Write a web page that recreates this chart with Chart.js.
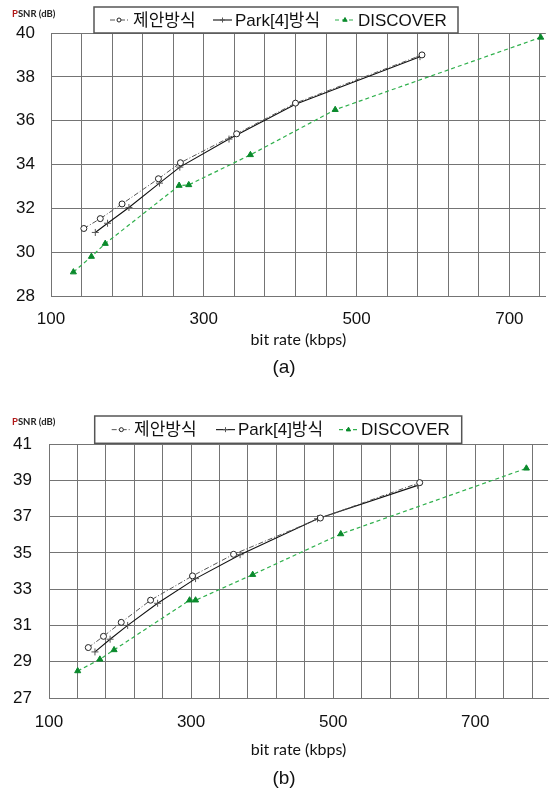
<!DOCTYPE html>
<html><head><meta charset="utf-8">
<script src="https://cdn.jsdelivr.net/npm/chart.js@4.4.1/dist/chart.umd.min.js"></script>
<style>
html,body{margin:0;padding:0;background:#fff;overflow:hidden;width:553px;height:791px}
#wa{position:absolute;left:0;top:0;width:553px;height:385px}
#wb{position:absolute;left:0;top:395px;width:553px;height:396px}
</style></head><body>
<div id="wa"><canvas id="ca"></canvas></div>
<div id="wb"><canvas id="cb"></canvas></div>
<script>
// ---- data ----
const seriesNames = ['제안방식', 'Park[4]방식', 'DISCOVER'];
const yAxisLabel = 'PSNR (dB)';
const xAxisLabel = 'bit rate (kbps)';
const captions = ['(a)', '(b)'];

// chart (a)
const rateProposedA = [143, 164.5, 193, 240.6, 269.4, 343, 420, 585.6];
const psnrProposedA = [31.08, 31.53, 32.2, 33.35, 34.08, 35.4, 36.8, 39.0];
const ratePark4A    = [158, 174, 202, 242, 268.6, 333, 420, 583];
const psnrPark4A    = [30.9, 31.32, 32.04, 33.15, 33.88, 35.16, 36.75, 38.92];
const rateDiscoverA = [129.3, 152.9, 171, 267.7, 280.3, 361, 472, 741];
const psnrDiscoverA = [29.09, 29.8, 30.39, 33.04, 33.07, 34.44, 36.5, 39.8];
const xLabelsA = [100, 300, 500, 700];
const yTicksA  = [28, 30, 32, 34, 36, 38, 40];

// chart (b)
const rateProposedB = [155.3, 176.7, 201.7, 243, 302, 359.8, 482, 621.8];
const psnrProposedB = [29.78, 30.4, 31.17, 32.39, 33.73, 34.92, 36.92, 38.87];
const ratePark4B    = [164.7, 186, 210.7, 252.9, 306.3, 369, 478, 619];
const psnrPark4B    = [29.54, 30.24, 31.0, 32.22, 33.58, 34.9, 36.88, 38.72];
const rateDiscoverB = [140.4, 171.6, 191.6, 297.9, 306.3, 386.7, 510.7, 772];
const psnrDiscoverB = [28.49, 29.13, 29.65, 32.39, 32.39, 33.8, 36.04, 39.66];
const xLabelsB = [100, 300, 500, 700];
const yTicksB  = [27, 29, 31, 33, 35, 37, 39, 41];

// ---- helpers ----
const zip = (xs, ys) => xs.map((x, i) => ({x: x, y: ys[i]}));
function gridSteps(from, to, step) { const a = []; for (let v = from; v <= to; v += step) a.push(v); return a; }

const FONT = '"Liberation Sans", Arial, "Noto Sans CJK KR", sans-serif';
const GRID = '#747474';

function makeDatasets(rp, pp, rk, pk, rd, pd) {
  return [
    {label: seriesNames[0], data: zip(rp, pp), borderColor: '#555', borderWidth: 1, borderDash: [5, 2, 1, 2],
     pointStyle: 'circle', pointRadius: 3, pointBackgroundColor: '#fff', pointBorderColor: '#222', pointBorderWidth: 1},
    {label: seriesNames[1], data: zip(rk, pk), borderColor: '#111', borderWidth: 1.1,
     pointStyle: 'cross', pointRadius: 3.5, pointBorderColor: '#555', pointBorderWidth: 1},
    {label: seriesNames[2], data: zip(rd, pd), borderColor: '#2fb04c', borderWidth: 1.2, borderDash: [4, 3],
     pointStyle: 'triangle', pointRadius: 3.5, pointBackgroundColor: '#0a8a2c', pointBorderColor: '#0a8a2c', pointBorderWidth: 1}
  ];
}

const boxLegend = {
  id: 'boxLegend',
  afterDraw(chart, args, o) {
    const ctx = chart.ctx;
    ctx.save();
    ctx.fillStyle = '#fff';
    ctx.fillRect(o.box[0], o.box[1], o.box[2] - o.box[0], o.box[3] - o.box[1]);
    ctx.strokeStyle = '#555'; ctx.lineWidth = 1.5;
    ctx.strokeRect(o.box[0], o.box[1], o.box[2] - o.box[0], o.box[3] - o.box[1]);
    const cy = (o.box[1] + o.box[3]) / 2;
    chart.data.datasets.forEach((ds, i) => {
      const it = o.items[i];
      ctx.beginPath();
      ctx.setLineDash(ds.borderDash || []);
      ctx.strokeStyle = ds.borderColor; ctx.lineWidth = ds.borderWidth;
      ctx.moveTo(it[0], cy); ctx.lineTo(it[1], cy); ctx.stroke();
      ctx.setLineDash([]);
      ctx.fillStyle = ds.pointBackgroundColor || '#fff';
      ctx.strokeStyle = ds.pointBorderColor; ctx.lineWidth = 1;
      Chart.helpers.drawPoint(ctx, {pointStyle: ds.pointStyle, radius: ds.pointRadius - 1, borderWidth: 1, rotation: 0}, (it[0] + it[1]) / 2, cy);
      ctx.fillStyle = '#111';
      ctx.font = '17px ' + FONT;
      ctx.textBaseline = 'middle'; ctx.textAlign = 'left';
      ctx.fillText(ds.label, it[2], cy + 1);
    });
    ctx.restore();
  }
};

const captionPlugin = {
  id: 'captionPlugin',
  afterDraw(chart, args, o) {
    const ctx = chart.ctx;
    ctx.save();
    ctx.textBaseline = 'middle';
    ctx.font = 'bold 9.5px Lato, "Open Sans", sans-serif';
    ctx.textAlign = 'left';
    ctx.fillStyle = '#b01818';
    ctx.fillText(yAxisLabel.charAt(0), 12, o.psnrY);
    const w = ctx.measureText(yAxisLabel.charAt(0)).width;
    ctx.fillStyle = '#222';
    ctx.fillText(yAxisLabel.slice(1), 12 + w, o.psnrY);
    ctx.font = '19px ' + FONT;
    ctx.textAlign = 'center';
    ctx.fillStyle = '#111';
    ctx.fillText(o.caption, 284, o.capY);
    ctx.restore();
  }
};

function makeChart(id, ds, cfg) {
  return new Chart(document.getElementById(id), {
    type: 'line',
    data: {datasets: ds},
    plugins: [boxLegend, captionPlugin],
    options: {
      responsive: true, maintainAspectRatio: false, animation: false,
      layout: {padding: {left: 0, right: 0, top: cfg.padTop, bottom: cfg.padBottom}},
      plugins: {
        legend: {display: false}, tooltip: {enabled: false},
        boxLegend: {box: cfg.box, items: cfg.items},
        captionPlugin: {psnrY: cfg.psnrY, capY: cfg.capY, caption: cfg.caption}
      },
      scales: {
        x: {
          type: 'linear', min: 100, max: cfg.xMax,
          afterBuildTicks: s => { s.ticks = cfg.xGrid.map(v => ({value: v})); },
          afterFit: s => { s.height = cfg.xHeight; },
          grid: {color: GRID, lineWidth: 1, drawTicks: false},
          border: {display: true, color: GRID},
          ticks: {autoSkip: false, maxRotation: 0, padding: cfg.xPad, color: '#111', font: {family: FONT, size: 17},
                  callback: v => cfg.xLabels.includes(v) ? String(v) : ''},
          title: {display: true, text: xAxisLabel, color: '#111', padding: 0, font: {family: 'Lato, "Open Sans", sans-serif', size: 16, lineHeight: 1.2}}
        },
        y: {
          type: 'linear', min: cfg.yTicks[0], max: cfg.yTicks[cfg.yTicks.length - 1],
          afterBuildTicks: s => { s.ticks = cfg.yTicks.map(v => ({value: v})); },
          afterFit: s => { s.width = cfg.yWidth; },
          grid: {color: GRID, lineWidth: 1, drawTicks: false},
          border: {display: true, color: GRID},
          ticks: {padding: cfg.yPad, color: '#111', font: {family: FONT, size: 17}}
        }
      }
    }
  });
}

makeChart('ca', makeDatasets(rateProposedA, psnrProposedA, ratePark4A, psnrPark4A, rateDiscoverA, psnrDiscoverA), {
  padTop: 33, padBottom: 36, xMax: 747.7, xGrid: gridSteps(100, 740, 40), xLabels: xLabelsA, yTicks: yTicksA,
  xHeight: 53, xPad: 13, yWidth: 51, yPad: 16,
  box: [94, 7, 458, 33], items: [[110, 128, 133], [213, 232, 235], [335, 355, 358]],
  psnrY: 14, capY: 368, caption: captions[0]
});

makeChart('cb', makeDatasets(rateProposedB, psnrProposedB, ratePark4B, psnrPark4B, rateDiscoverB, psnrDiscoverB), {
  padTop: 49, padBottom: 32, xMax: 802.4, xGrid: gridSteps(100, 780, 40), xLabels: xLabelsB, yTicks: yTicksB,
  xHeight: 61, xPad: 14, yWidth: 49, yPad: 17,
  box: [94.7, 21, 461.7, 48.3], items: [[111.7, 131, 134], [216, 235, 238], [339, 358, 361]],
  psnrY: 27, capY: 384, caption: captions[1]
});
</script>
</body></html>
